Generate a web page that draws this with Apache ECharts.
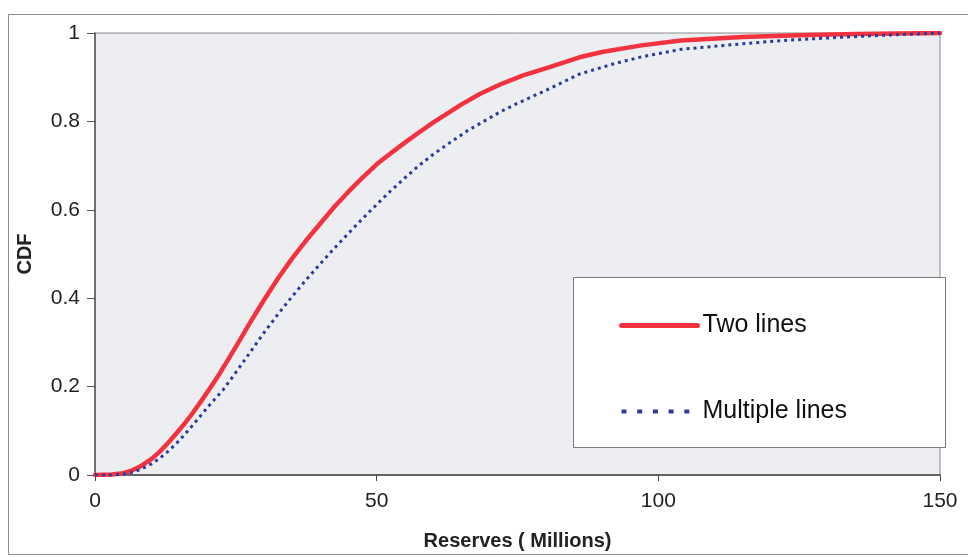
<!DOCTYPE html>
<html><head><meta charset="utf-8">
<script src="https://cdn.jsdelivr.net/npm/echarts@6/dist/echarts.min.js"></script>
<style>html,body{margin:0;padding:0;background:#fff}#c{width:968px;height:557px}</style>
</head><body><div id="c"></div>
<script>
const xTicks = [0, 50, 100, 150];
const yTicks = [0, 0.2, 0.4, 0.6, 0.8, 1];
const seriesNames = ['Two lines', 'Multiple lines'];
const twoX = [0, 3, 5, 6.5, 8, 10, 11.5, 13, 14.5, 16, 17.5, 19, 20.5, 22.2, 25, 27.5, 29.8, 32.5, 35, 37.5, 40, 42.5, 45, 47.5, 50, 52.5, 55, 57.5, 60, 65, 68.3, 72, 76, 80, 86, 90, 97, 104, 115, 125, 135, 150];
const twoY = [0, 0.001, 0.004, 0.010, 0.019, 0.036, 0.053, 0.073, 0.095, 0.118, 0.143, 0.17, 0.198, 0.231, 0.29, 0.344, 0.392, 0.445, 0.49, 0.531, 0.569, 0.607, 0.641, 0.673, 0.703, 0.728, 0.752, 0.775, 0.797, 0.838, 0.862, 0.884, 0.904, 0.92, 0.945, 0.957, 0.972, 0.983, 0.991, 0.995, 0.998, 1];
const multiX = [0, 3, 5, 6.5, 8, 10, 11.5, 13, 14.5, 16, 17.5, 19, 20.5, 22.7, 25, 27.5, 30, 32.5, 35, 37.5, 40, 42.5, 45, 47.5, 50, 52.5, 55, 57.5, 60, 63, 66, 69, 72, 75, 80, 86, 92, 97, 104, 114.5, 122, 132, 140, 150];
const multiY = [0, 0, 0.002, 0.006, 0.012, 0.025, 0.038, 0.054, 0.072, 0.093, 0.115, 0.138, 0.161, 0.192, 0.232, 0.277, 0.322, 0.364, 0.404, 0.442, 0.478, 0.513, 0.547, 0.58, 0.612, 0.643, 0.672, 0.70, 0.725, 0.752, 0.778, 0.80, 0.822, 0.841, 0.870, 0.907, 0.93, 0.946, 0.963, 0.975, 0.983, 0.99, 0.995, 1];

const zip = (xs, ys) => xs.map((x, i) => [x, ys[i]]);
const FONT = '"Liberation Sans", Arial, sans-serif';
const chart = echarts.init(document.getElementById('c'), null, {renderer: 'canvas'});
chart.setOption({
  animation: false,
  backgroundColor: '#ffffff',
  grid: {left: 95, right: 28, top: 33, bottom: 82, show: true, backgroundColor: '#eceef1', borderColor: '#8a8a8a', borderWidth: 1},
  graphic: [
    {type: 'rect', shape: {x: 8.5, y: 14.5, width: 980, height: 540}, style: {fill: 'none', stroke: '#8c8c8c', lineWidth: 1}, z: -10},
    {type: 'rect', shape: {x: 573.5, y: 277.5, width: 372, height: 170}, style: {fill: '#ffffff', stroke: '#7a7a7a', lineWidth: 1}, z: 50}
  ],
  legend: {
    orient: 'vertical', left: 614, top: 308, itemGap: 61, itemWidth: 76, itemHeight: 14,
    data: [
      {name: seriesNames[0], itemStyle: {opacity: 0}, lineStyle: {width: 5, color: '#f2333f', cap: 'round'}},
      {name: seriesNames[1], itemStyle: {opacity: 0}, lineStyle: {width: 4, color: '#2a3c9c', type: [5, 10.7]}}
    ],
    z: 60,
    textStyle: {fontFamily: FONT, fontSize: 25, color: '#111'}
  },
  xAxis: {
    type: 'value', min: 0, max: 150, interval: 50,
    name: 'Reserves ( Millions)', nameLocation: 'middle', nameGap: 56,
    nameTextStyle: {fontFamily: FONT, fontSize: 20, fontWeight: 'bold', color: '#222'},
    axisLine: {show: true, lineStyle: {color: '#444', width: 1.5}},
    axisTick: {show: true, length: 6, lineStyle: {color: '#444'}},
    axisLabel: {fontFamily: FONT, fontSize: 21, color: '#222', margin: 16, formatter: v => xTicks.includes(v) ? String(v) : ''},
    splitLine: {show: false}
  },
  yAxis: {
    type: 'value', min: 0, max: 1, interval: 0.2,
    name: 'CDF', nameLocation: 'middle', nameGap: 60,
    nameTextStyle: {fontFamily: FONT, fontSize: 20, fontWeight: 'bold', color: '#222'},
    axisLine: {show: true, lineStyle: {color: '#555', width: 1.5}},
    axisTick: {show: true, length: 8, lineStyle: {color: '#555'}},
    axisLabel: {fontFamily: FONT, fontSize: 21, color: '#222', margin: 15, formatter: v => { const t = yTicks.find(y => Math.abs(y - v) < 1e-9); return t === undefined ? '' : String(t); }},
    splitLine: {show: false}
  },
  series: [
    {name: seriesNames[0], type: 'line', data: zip(twoX, twoY), showSymbol: false, symbol: 'none', smooth: false,
     lineStyle: {color: '#f2333f', width: 4.5, cap: 'round', join: 'round'}, itemStyle: {color: '#f2333f'}, z: 3},
    {name: seriesNames[1], type: 'line', data: zip(multiX, multiY), showSymbol: false, symbol: 'none', smooth: false,
     lineStyle: {color: '#2a3c9c', width: 3, type: [3, 4]}, itemStyle: {color: '#2a3c9c'}, z: 4}
  ]
});
</script></body></html>
